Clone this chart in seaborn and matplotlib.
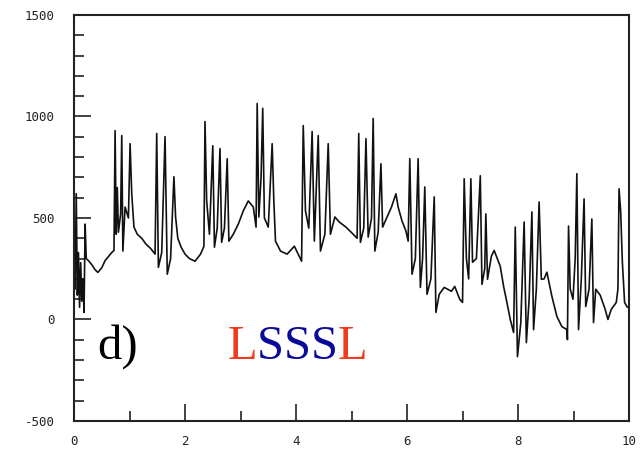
import matplotlib
matplotlib.use("Agg")
import matplotlib.pyplot as plt
from matplotlib.ticker import MultipleLocator
import numpy as np
import pandas as pd
import seaborn as sns

# signal trace (time, value)
t = [0.00, 0.02, 0.04, 0.06, 0.08, 0.10, 0.12, 0.14, 0.16, 0.18,
     0.20, 0.22, 0.26, 0.32, 0.38, 0.43, 0.50, 0.56, 0.62, 0.68,
     0.72, 0.74, 0.76, 0.78, 0.80, 0.84, 0.86, 0.88, 0.92, 0.98,
     1.01, 1.04, 1.08, 1.14, 1.22, 1.30, 1.38, 1.46, 1.49, 1.52,
     1.58, 1.64, 1.68, 1.74, 1.80, 1.83, 1.87, 1.93, 2.00, 2.08,
     2.18, 2.28, 2.34, 2.36, 2.39, 2.44, 2.50, 2.53, 2.58, 2.63,
     2.66, 2.71, 2.76, 2.79, 2.87, 2.96, 3.05, 3.14, 3.23, 3.28,
     3.30, 3.33, 3.37, 3.40, 3.43, 3.50, 3.57, 3.60, 3.63, 3.72,
     3.84, 3.97, 4.10, 4.13, 4.17, 4.23, 4.29, 4.33, 4.40, 4.44,
     4.52, 4.58, 4.62, 4.70, 4.78, 4.90, 5.03, 5.10, 5.13, 5.16,
     5.22, 5.26, 5.30, 5.36, 5.39, 5.42, 5.48, 5.53, 5.56, 5.64,
     5.72, 5.80, 5.84, 5.91, 5.98, 6.02, 6.05, 6.09, 6.15, 6.20,
     6.24, 6.28, 6.32, 6.36, 6.43, 6.49, 6.52, 6.58, 6.67, 6.80,
     6.86, 6.95, 7.00, 7.03, 7.07, 7.11, 7.15, 7.18, 7.25, 7.32,
     7.35, 7.40, 7.42, 7.45, 7.52, 7.57, 7.68, 7.74, 7.80, 7.86,
     7.92, 7.95, 7.99, 8.05, 8.11, 8.15, 8.20, 8.25, 8.28, 8.33,
     8.38, 8.42, 8.47, 8.52, 8.61, 8.70, 8.79, 8.88, 8.89, 8.91,
     8.94, 8.99, 9.03, 9.06, 9.09, 9.14, 9.19, 9.22, 9.28, 9.33,
     9.36, 9.40, 9.48, 9.57, 9.62, 9.68, 9.77, 9.80, 9.82, 9.85,
     9.88, 9.92, 9.97]
value = [250, 150, 620, 120, 330, 60, 280, 90, 200, 35,
         470, 300, 290, 270, 245, 232, 255, 290, 310, 330,
         340, 930, 420, 650, 430, 520, 906, 337, 554, 500,
         866, 619, 455, 420, 400, 370, 350, 322, 916, 257,
         330, 901, 223, 300, 703, 505, 400, 356, 322, 300,
         287, 322, 360, 975, 584, 420, 856, 356, 450, 842,
         380, 450, 792, 386, 420, 470, 535, 584, 554, 455,
         1064, 505, 700, 1040, 500, 455, 866, 584, 386, 337,
         322, 361, 287, 955, 535, 450, 926, 386, 906, 337,
         420, 866, 420, 505, 480, 455, 420, 400, 916, 380,
         450, 891, 406, 500, 990, 337, 430, 767, 455, 505,
         554, 619, 554, 485, 436, 386, 792, 223, 300, 792,
         158, 300, 653, 124, 200, 604, 35, 124, 158, 139,
         163, 99, 84, 693, 300, 200, 693, 282, 300, 708,
         173, 250, 520, 198, 312, 340, 262, 163, 84, 0,
         -64, 455, -183, -15, 480, -114, 100, 530, -50, 150,
         579, 198, 200, 233, 114, 15, -35, -50, -99, 460,
         150, 100, 300, 718, -50, 200, 594, 64, 150, 495,
         -15, 149, 120, 50, 0, 50, 84, 150, 644, 530,
         282, 84, 60]

letters = ["L", "S", "S", "S", "L"]
letter_colors = ["#f03c1e", "#0a0a9a", "#0a0a9a", "#0a0a9a", "#f03c1e"]

df = pd.DataFrame({"t": t, "value": value})

sns.set_style("ticks")
plt.rcParams["axes.unicode_minus"] = False
fig = plt.figure(figsize=(6.42, 4.57), dpi=100)
ax = fig.add_axes([0.1153, 0.0788, 0.8645, 0.8884])

sns.lineplot(data=df, x="t", y="value", ax=ax, color="#111111", linewidth=1.2,
             sort=False, estimator=None)

ax.set_xlim(0, 10)
ax.set_ylim(-500, 1500)
ax.set_xlabel("")
ax.set_ylabel("")
ax.xaxis.set_major_locator(MultipleLocator(2))
ax.xaxis.set_minor_locator(MultipleLocator(1))
ax.yaxis.set_major_locator(MultipleLocator(500))
ax.yaxis.set_minor_locator(MultipleLocator(100))
ax.tick_params(which="both", direction="in", color="#222222", width=1.2)
ax.tick_params(axis="y", which="major", length=12, pad=14)
ax.tick_params(axis="y", which="minor", length=7)
ax.tick_params(axis="x", which="major", length=12, pad=10)
ax.tick_params(axis="x", which="minor", length=7)
for lab in ax.get_xticklabels() + ax.get_yticklabels():
    lab.set_fontfamily("DejaVu Sans Mono")
    lab.set_fontsize(9)
    lab.set_color("#222222")
for sp in ax.spines.values():
    sp.set_visible(True)
    sp.set_linewidth(1.5)
    sp.set_color("#222222")

ax.text(0.41, -193, "d)", fontsize=35, family="Liberation Serif",
        color="black", va="baseline", ha="left")

prev = ax.text(2.76, -193, letters[0], fontsize=35, family="Liberation Serif",
               color=letter_colors[0], va="baseline", ha="left")
for ch, col in zip(letters[1:], letter_colors[1:]):
    prev = ax.annotate(ch, xy=(1, 0), xycoords=prev, fontsize=35,
                       family="Liberation Serif", color=col,
                       va="bottom", ha="left")

fig.savefig("out.png", dpi=100)
